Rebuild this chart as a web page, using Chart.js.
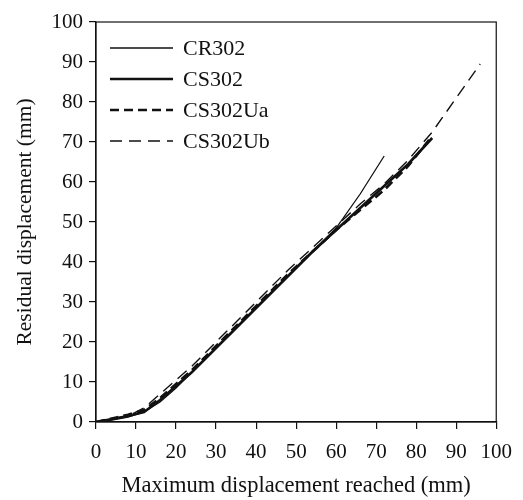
<!DOCTYPE html>
<html>
<head>
<meta charset="utf-8">
<script src="https://cdn.jsdelivr.net/npm/chart.js@4"></script>
<style>
  body { margin: 0; background: #fff; }
  #wrap { width: 523px; height: 500px; }
</style>
</head>
<body>
<div id="wrap"><canvas id="chart" width="523" height="500"></canvas></div>
<script>
// datos (x = desplazamiento maximo, y = residual), mm
const cr302X = [0, 4, 8, 12, 16, 20, 24, 30, 36, 42, 48, 54, 60, 66, 72];
const cr302Y = [0, 0.5, 1.2, 2.5, 5, 8.5, 12.5, 18.5, 24.5, 30.5, 36.5, 42.5, 48.5, 57, 66.5];

const cs302X = [0, 8, 12, 16, 20, 24, 30, 36, 42, 48, 54, 60, 66, 72, 78, 84];
const cs302Y = [0, 1.5, 2.5, 5.5, 9, 12.5, 18.5, 24.5, 30.5, 36.5, 42.5, 48, 53.5, 59, 64.5, 71];

const cs302UaX = [0, 8, 12, 16, 20, 24, 30, 36, 42, 48, 54, 60, 66, 72, 78, 84];
const cs302UaY = [0, 1.8, 3, 6, 9.5, 13, 19, 25, 31, 37, 42.5, 48, 53, 58, 64, 71.5];

const cs302UbX = [0, 8, 12, 16, 20, 24, 30, 36, 42, 48, 54, 60, 66, 72, 78, 84, 90, 96];
const cs302UbY = [0, 1.5, 3.5, 7, 10.5, 14, 20, 26, 32, 38, 43.5, 49, 54.5, 59.5, 65.5, 72.5, 81, 89.5];

const seriesNames = ['CR302', 'CS302', 'CS302Ua', 'CS302Ub'];
const xTicks = [0, 10, 20, 30, 40, 50, 60, 70, 80, 90, 100];
const yTicks = [0, 10, 20, 30, 40, 50, 60, 70, 80, 90, 100];

const toPts = (xs, ys) => xs.map((x, i) => ({ x: x, y: ys[i] }));
const ink = '#111';
const serif = '"Liberation Serif", "DejaVu Serif", serif';

// leyenda y marco dibujados a mano
const framePlugin = {
    id: 'frame',
    afterDraw(chart) {
        const ctx = chart.ctx;
        const a = chart.chartArea;
        ctx.save();
        ctx.strokeStyle = ink;
        ctx.lineWidth = 1.2;
        ctx.strokeRect(a.left, a.top, a.right - a.left, a.bottom - a.top);

        ctx.font = '22px ' + serif;
        ctx.textBaseline = 'middle';
        ctx.fillStyle = ink;
        chart.data.datasets.forEach((ds, i) => {
            const y = 48 + i * 31;
            ctx.beginPath();
            ctx.lineWidth = ds.borderWidth;
            ctx.setLineDash(ds.borderDash || []);
            ctx.moveTo(110, y);
            ctx.lineTo(173, y);
            ctx.stroke();
            ctx.setLineDash([]);
            ctx.fillText(ds.label, 183, y + 1);
        });
        ctx.restore();
    }
};

const ctx = document.getElementById('chart').getContext('2d');
const chart = new Chart(ctx, {
    type: 'scatter',
    data: {
        datasets: [
            { label: seriesNames[0], data: toPts(cr302X, cr302Y), borderWidth: 1.3 },
            { label: seriesNames[1], data: toPts(cs302X, cs302Y), borderWidth: 2.6 },
            { label: seriesNames[2], data: toPts(cs302UaX, cs302UaY), borderWidth: 2.6, borderDash: [9, 5] },
            { label: seriesNames[3], data: toPts(cs302UbX, cs302UbY), borderWidth: 1.4, borderDash: [12, 7] }
        ].map(d => Object.assign({
            showLine: true,
            borderColor: ink,
            pointRadius: 0,
            tension: 0,
            fill: false
        }, d))
    },
    options: {
        responsive: false,
        animation: false,
        layout: { padding: { left: 0, right: 26, top: 22, bottom: 0 } },
        plugins: {
            legend: { display: false },
            tooltip: { enabled: false }
        },
        scales: {
            x: {
                type: 'linear',
                min: 0,
                max: 100,
                afterBuildTicks: s => { s.ticks = xTicks.map(v => ({ value: v })); },
                afterFit: s => { s.height = 78; },
                grid: { drawOnChartArea: false, tickLength: 7, color: ink, lineWidth: 1.2 },
                border: { color: ink, width: 1.2 },
                ticks: { color: ink, font: { family: serif, size: 21 }, padding: 11, maxRotation: 0 },
                title: {
                    display: true,
                    text: 'Maximum displacement reached (mm)',
                    color: ink,
                    font: { family: serif, size: 22.5 },
                    padding: { top: 4, bottom: 0 }
                }
            },
            y: {
                type: 'linear',
                min: 0,
                max: 100,
                afterBuildTicks: s => { s.ticks = yTicks.map(v => ({ value: v })); },
                afterFit: s => { s.width = 96; },
                grid: { drawOnChartArea: false, tickLength: 7, color: ink, lineWidth: 1.2 },
                border: { color: ink, width: 1.2 },
                ticks: { color: ink, font: { family: serif, size: 21 }, padding: 6 },
                title: {
                    display: true,
                    text: 'Residual displacement (mm)',
                    color: ink,
                    font: { family: serif, size: 21.5 },
                    padding: { top: 12, bottom: 2 }
                }
            }
        }
    },
    plugins: [framePlugin]
});
</script>
</body>
</html>
